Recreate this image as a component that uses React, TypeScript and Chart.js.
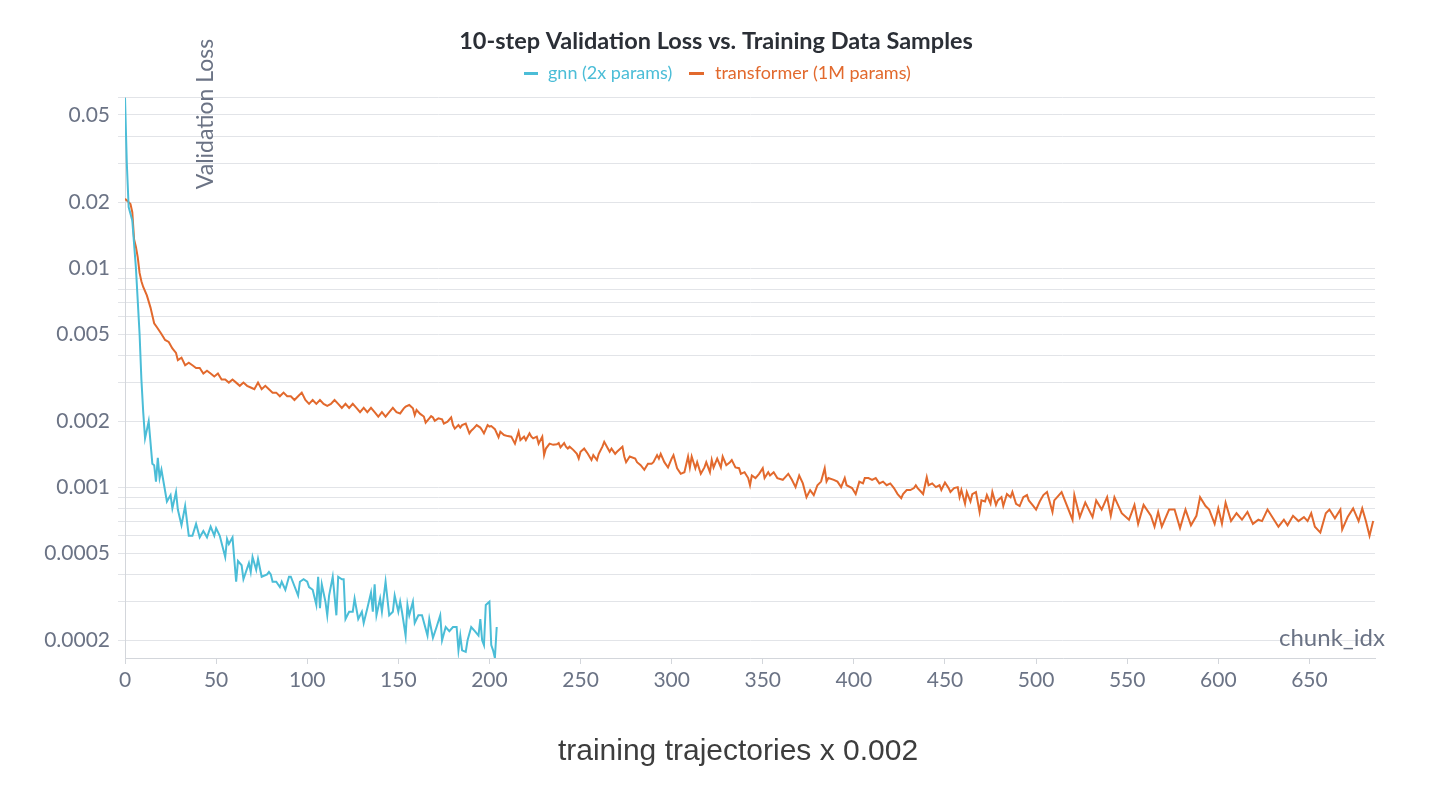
import { useEffect, useRef } from "react"
import { Chart, registerables } from "chart.js"

Chart.register(...registerables)

// gnn (2x params): chunk index and 10-step validation loss
const gnnStep = [
  0, 1, 2, 4, 6, 8, 9, 10, 11, 13,
  15, 16, 17, 18, 19, 20, 23, 25, 26, 28,
  29, 31, 33, 35, 37, 39, 41, 43, 45, 47,
  49, 50, 52, 55, 56, 57, 59, 61, 62, 64,
  65, 68, 69, 70, 72, 73, 75, 78, 79, 80,
  81, 83, 85, 86, 88, 90, 91, 95, 96, 98,
  100, 101, 103, 105, 106, 107, 108, 110, 111, 112,
  114, 116, 117, 119, 120, 121, 123, 125, 126, 128,
  130, 131, 133, 135, 136, 137, 138, 140, 141, 143,
  145, 147, 148, 150, 151, 152, 154, 155, 156, 158,
  159, 161, 163, 166, 167, 169, 171, 173, 174, 176,
  178, 180, 182, 183, 184, 185, 187, 188, 190, 192,
  194, 195, 196, 197, 198, 200, 201, 202, 203, 204,
]
const gnnLoss = [
  0.06, 0.03, 0.019, 0.0165, 0.01, 0.005, 0.0031, 0.0022, 0.00167, 0.002,
  0.00128, 0.00126, 0.00106, 0.00136, 0.0011, 0.0012, 0.00086, 0.00092, 0.0008, 0.00095,
  0.00079, 0.00067, 0.00082, 0.0006, 0.0006, 0.00068, 0.00059, 0.00063, 0.00059, 0.00066,
  0.0006, 0.00065, 0.0006, 0.00048, 0.00058, 0.00055, 0.00059, 0.00037, 0.00046, 0.00044,
  0.00038, 0.00045, 0.00041, 0.00048, 0.00042, 0.00047, 0.00039, 0.0004, 0.00041, 0.0004,
  0.00037, 0.00037, 0.00035, 0.00037, 0.00034, 0.00039, 0.00039, 0.00032, 0.00037, 0.00038,
  0.00037, 0.00035, 0.00034, 0.00029, 0.00039, 0.00028, 0.00036, 0.0003, 0.00026, 0.00032,
  0.00039, 0.00026, 0.00039, 0.00038, 0.00038, 0.00025, 0.00027, 0.00027, 0.00031, 0.00025,
  0.00027, 0.00024, 0.00028, 0.00033, 0.00027, 0.00036, 0.00026, 0.00031, 0.00027, 0.00037,
  0.00026, 0.00027, 0.00032, 0.00027, 0.0003, 0.00027, 0.00021, 0.00029, 0.00026, 0.0003,
  0.00024, 0.00026, 0.00026, 0.00021, 0.00025, 0.000205, 0.00023, 0.00026, 0.0002, 0.00023,
  0.00022, 0.00023, 0.00023, 0.00018, 0.00021, 0.00018, 0.000177, 0.0002, 0.00023, 0.00022,
  0.00021, 0.00025, 0.0002, 0.00019, 0.00029, 0.0003, 0.00019, 0.00018, 0.000166, 0.00023,
]

// transformer (1M params)
const tfStep = [
  0, 2, 3, 4, 5, 6, 7, 8, 9, 10,
  12, 14, 16, 18, 20, 22, 24, 26, 28, 29,
  31, 33, 35, 37, 39, 41, 43, 45, 47, 49,
  51, 53, 55, 57, 59, 61, 63, 65, 67, 69,
  71, 73, 75, 77, 79, 81, 83, 85, 87, 89,
  91, 93, 95, 97, 99, 101, 103, 105, 107, 109,
  111, 113, 115, 117, 119, 121, 123, 125, 127, 129,
  131, 133, 135, 137, 139, 141, 143, 145, 147, 149,
  151, 153, 154, 156, 158, 159, 160, 162, 164, 165,
  167, 168, 169, 170, 172, 174, 175, 177, 179, 180,
  181, 183, 184, 185, 187, 189, 190, 191, 193, 195,
  196, 197, 199, 200, 201, 203, 205, 206, 208, 210,
  212, 214, 216, 217, 219, 220, 222, 223, 224, 226,
  227, 229, 230, 231, 233, 235, 237, 238, 239, 241,
  242, 243, 244, 246, 248, 249, 250, 252, 254, 256,
  257, 259, 260, 262, 263, 265, 266, 267, 269, 270,
  273, 274, 275, 277, 280, 281, 283, 285, 287, 289,
  290, 292, 293, 294, 296, 298, 300, 301, 303, 305,
  307, 309, 310, 311, 313, 314, 316, 318, 319, 321,
  322, 323, 325, 327, 328, 330, 332, 333, 335, 337,
  338, 340, 342, 343, 344, 346, 348, 350, 351, 353,
  354, 356, 358, 361, 364, 366, 368, 370, 372, 374,
  376, 378, 380, 382, 384, 385, 386, 389, 391, 393,
  395, 396, 399, 401, 403, 405, 406, 408, 410, 412,
  414, 416, 418, 420, 422, 424, 426, 427, 429, 431,
  433, 434, 435, 437, 438, 440, 441, 443, 445, 447,
  448, 450, 452, 453, 455, 457, 458, 459, 461, 462,
  464, 465, 467, 469, 470, 472, 473, 475, 476, 478,
  479, 481, 482, 484, 486, 487, 489, 491, 493, 495,
  496, 498, 500, 502, 504, 506, 509, 510, 514, 520,
  521, 524, 527, 531, 533, 536, 539, 541, 543, 547,
  551, 554, 556, 559, 563, 565, 567, 569, 573, 576,
  579, 582, 585, 588, 590, 593, 595, 598, 600, 602,
  604, 607, 610, 613, 616, 619, 622, 624, 627, 631,
  633, 636, 638, 641, 644, 647, 649, 651, 653, 656,
  659, 661, 664, 667, 668, 671, 674, 677, 679, 681,
  683, 685,
]
const tfLoss = [
  0.0207, 0.02, 0.0196, 0.018, 0.0135, 0.0125, 0.0112, 0.0095, 0.0087, 0.0082,
  0.0075, 0.0066, 0.0056, 0.0053, 0.005, 0.0047, 0.0046, 0.0043, 0.0041, 0.0038,
  0.0039, 0.0036, 0.0037, 0.0036, 0.0035, 0.0035, 0.0033, 0.0034, 0.0033, 0.0032,
  0.0033, 0.0031, 0.0031, 0.003, 0.0031, 0.003, 0.0029, 0.003, 0.0029, 0.00285,
  0.0028, 0.003, 0.0028, 0.0029, 0.0028, 0.0027, 0.0027, 0.0026, 0.0027, 0.0026,
  0.0026, 0.0025, 0.0026, 0.0027, 0.0025, 0.0024, 0.0025, 0.0024, 0.0025, 0.0024,
  0.00235, 0.0024, 0.0025, 0.0024, 0.0023, 0.0024, 0.0023, 0.0024, 0.0023, 0.0022,
  0.0023, 0.0022, 0.0023, 0.0022, 0.0021, 0.0022, 0.0021, 0.0022, 0.0023, 0.0022,
  0.00217, 0.00229, 0.00233, 0.00237, 0.00229, 0.00213, 0.00225, 0.00216, 0.0021, 0.00197,
  0.00206, 0.00211, 0.00208, 0.00201, 0.00206, 0.00204, 0.00195, 0.00199, 0.00208, 0.00192,
  0.00185, 0.00192, 0.00187, 0.00192, 0.00195, 0.00176, 0.00181, 0.00184, 0.00192, 0.00187,
  0.00182, 0.00176, 0.00192, 0.00189, 0.0019, 0.00184, 0.00169, 0.00179, 0.00173, 0.00171,
  0.0017, 0.00158, 0.00179, 0.00164, 0.0017, 0.00164, 0.00176, 0.0017, 0.00167, 0.0017,
  0.00158, 0.0017, 0.0014, 0.0015, 0.00158, 0.00156, 0.00157, 0.00159, 0.00152, 0.00159,
  0.00153, 0.0015, 0.00153, 0.00148, 0.00142, 0.00135, 0.00145, 0.0015, 0.00142, 0.00133,
  0.0014, 0.00133, 0.00142, 0.00153, 0.00161, 0.0015, 0.00145, 0.0015, 0.00142, 0.00145,
  0.00153, 0.00138, 0.0013, 0.00138, 0.00135, 0.0013, 0.00126, 0.0012, 0.00128, 0.00128,
  0.0013, 0.0014, 0.00135, 0.00142, 0.0013, 0.00123, 0.00135, 0.0014, 0.00122, 0.00115,
  0.00117, 0.00138, 0.00123, 0.00138, 0.00122, 0.0013, 0.00115, 0.00123, 0.0013, 0.00117,
  0.00133, 0.00123, 0.00135, 0.00123, 0.00138, 0.00126, 0.0013, 0.00133, 0.00123, 0.00122,
  0.00115, 0.00117, 0.0011, 0.00102, 0.00113, 0.0011, 0.00115, 0.00122, 0.0011, 0.00117,
  0.00113, 0.00117, 0.0011, 0.00108, 0.00115, 0.00108, 0.001, 0.00113, 0.00104, 0.0009,
  0.00097, 0.00092, 0.00102, 0.00106, 0.00122, 0.00106, 0.0011, 0.00108, 0.00106, 0.001,
  0.0011, 0.00102, 0.00099, 0.00093, 0.00106, 0.00104, 0.0011, 0.0011, 0.00108, 0.0011,
  0.00104, 0.00106, 0.00102, 0.00104, 0.00099, 0.00093, 0.00089, 0.00093, 0.00097, 0.00097,
  0.00099, 0.00102, 0.00099, 0.00095, 0.00093, 0.00111, 0.00102, 0.00104, 0.001, 0.00102,
  0.00097, 0.00105, 0.00099, 0.00095, 0.00099, 0.001, 0.0009, 0.00097, 0.00084, 0.00095,
  0.00086, 0.00093, 0.00095, 0.00077, 0.00087, 0.00086, 0.00092, 0.00084, 0.00095, 0.00083,
  0.00087, 0.0009, 0.00082, 0.00093, 0.0009, 0.00095, 0.00084, 0.00082, 0.0009, 0.00092,
  0.00087, 0.00083, 0.00079, 0.00086, 0.00092, 0.00095, 0.00077, 0.00087, 0.00095, 0.00071,
  0.00092, 0.00073, 0.00085, 0.00073, 0.00087, 0.00079, 0.0009, 0.00074, 0.0009, 0.00076,
  0.00071, 0.00083, 0.00068, 0.00083, 0.00074, 0.00066, 0.00077, 0.00066, 0.00079, 0.00079,
  0.00065, 0.00079, 0.00067, 0.00074, 0.0009, 0.00082, 0.00079, 0.00068, 0.0008, 0.00068,
  0.00085, 0.0007, 0.00076, 0.00071, 0.00077, 0.00068, 0.00071, 0.0007, 0.00079, 0.0007,
  0.00066, 0.00071, 0.00067, 0.00074, 0.0007, 0.00073, 0.0007, 0.00076, 0.00066, 0.00062,
  0.00076, 0.00079, 0.00072, 0.00079, 0.00064, 0.00073, 0.0008, 0.0007, 0.0008, 0.0007,
  0.0006, 0.0007,
]

const xTicks = [0, 50, 100, 150, 200, 250, 300, 350, 400, 450, 500, 550, 600, 650]
const yGrid = [
  0.0002, 0.0003, 0.0004, 0.0005, 0.0006, 0.0007, 0.0008, 0.0009,
  0.001, 0.002, 0.003, 0.004, 0.005, 0.006, 0.007, 0.008, 0.009,
  0.01, 0.02, 0.03, 0.04, 0.05, 0.06,
]
const yLabels = [0.0002, 0.0005, 0.001, 0.002, 0.005, 0.01, 0.02, 0.05]

const CYAN = "#4bbdd7"
const ORANGE = "#e2692d"
const GRAY = "#6b7385"
const FONT = "Lato, 'Noto Sans', sans-serif"

// title, legend and axis captions sit at fixed spots, like the W&B export
const captions = {
  id: "captions",
  afterDraw(chart: Chart) {
    const ctx = chart.ctx
    ctx.save()
    ctx.textBaseline = "middle"

    ctx.fillStyle = "#2b2f36"
    ctx.font = `bold 23.5px ${FONT}`
    ctx.textAlign = "center"
    ctx.fillText("10-step Validation Loss vs. Training Data Samples", 708, 33)

    ctx.font = `18px ${FONT}`
    ctx.textAlign = "left"
    ctx.fillStyle = CYAN
    ctx.fillRect(516, 64, 14, 3)
    ctx.fillText("gnn (2x params)", 540, 65)
    ctx.fillStyle = ORANGE
    ctx.fillRect(681, 64, 15, 3)
    ctx.fillText("transformer (1M params)", 707, 65)

    ctx.fillStyle = GRAY
    ctx.font = `23px ${FONT}`
    ctx.save()
    ctx.translate(198, 106)
    ctx.rotate(-Math.PI / 2)
    ctx.textAlign = "center"
    ctx.fillText("Validation Loss", 0, 0)
    ctx.restore()

    ctx.font = `24px ${FONT}`
    ctx.textAlign = "right"
    ctx.fillText("chunk_idx", 1377, 630)

    ctx.fillStyle = "#3d3d3d"
    ctx.font = "30px 'Liberation Sans', Arial, sans-serif"
    ctx.textAlign = "center"
    ctx.fillText("training trajectories x 0.002", 730, 744)
    ctx.restore()
  },
}

function LossChart() {
  const canvasRef = useRef<HTMLCanvasElement>(null)
  const chartRef = useRef<Chart | null>(null)

  useEffect(() => {
    const canvas = canvasRef.current
    if (!canvas) return

    if (chartRef.current) chartRef.current.destroy()

    chartRef.current = new Chart(canvas, {
      type: "line",
      data: {
        datasets: [
          {
            label: "gnn (2x params)",
            data: gnnStep.map((x, i) => ({ x, y: gnnLoss[i] })),
            borderColor: CYAN,
            borderWidth: 2,
            pointRadius: 0,
            tension: 0,
          },
          {
            label: "transformer (1M params)",
            data: tfStep.map((x, i) => ({ x, y: tfLoss[i] })),
            borderColor: ORANGE,
            borderWidth: 2,
            pointRadius: 0,
            tension: 0,
          },
        ],
      },
      options: {
        animation: false,
        responsive: true,
        maintainAspectRatio: false,
        layout: { padding: { top: 89.6, right: 73, bottom: 81, left: 0 } },
        plugins: {
          legend: { display: false },
          tooltip: { enabled: false },
        },
        scales: {
          x: {
            type: "linear",
            min: 0,
            max: 686,
            afterBuildTicks: (axis: any) => {
              axis.ticks = xTicks.map((value) => ({ value }))
            },
            afterFit: (axis: any) => {
              axis.height = 50
            },
            grid: { drawOnChartArea: false, drawTicks: true, tickLength: 6, color: "#d3d6db" },
            border: { display: true, color: "#d3d6db" },
            ticks: { color: GRAY, font: { family: FONT, size: 21 }, padding: 4, maxRotation: 0 },
          },
          y: {
            type: "logarithmic",
            min: 0.000166,
            max: 0.06,
            afterBuildTicks: (axis: any) => {
              axis.ticks = yGrid.map((value) => ({ value }))
            },
            afterFit: (axis: any) => {
              axis.width = 117
            },
            grid: { color: "#e2e4e8", tickLength: 7 },
            border: { display: true, color: "#d3d6db" },
            ticks: {
              autoSkip: false,
              color: GRAY,
              padding: 8,
              font: { family: FONT, size: 21 },
              callback: (value: any) => (yLabels.includes(Number(value)) ? String(value) : ""),
            },
          },
        },
      },
      plugins: [captions],
    })

    return () => {
      if (chartRef.current) {
        chartRef.current.destroy()
        chartRef.current = null
      }
    }
  }, [])

  return (
    <div style={{ position: "relative", width: 1440, height: 781, background: "#fff" }}>
      <canvas ref={canvasRef} />
    </div>
  )
}

export default function App() {
  return <LossChart />
}
